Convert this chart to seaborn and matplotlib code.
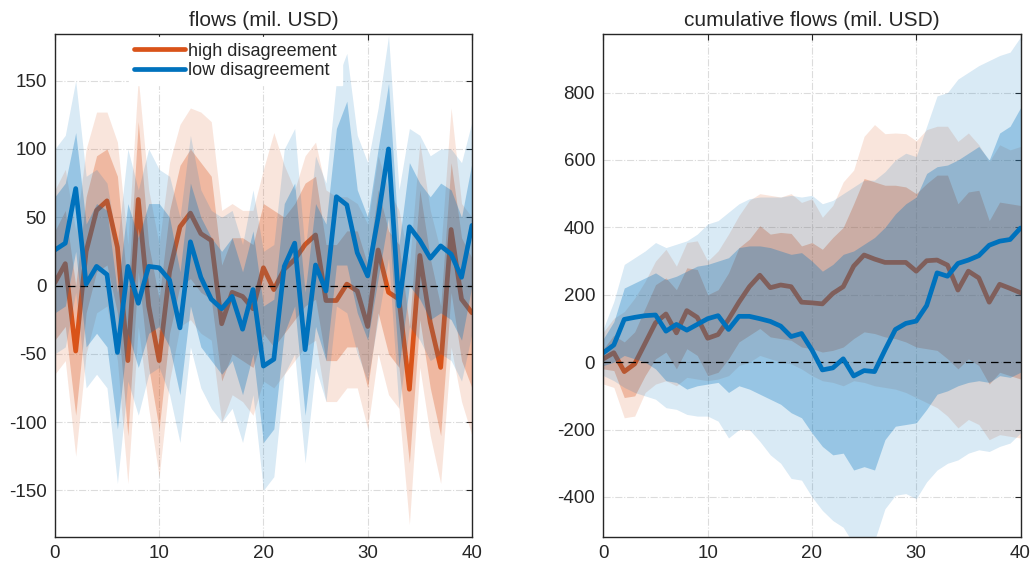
import numpy as np
import pandas as pd
import matplotlib
matplotlib.use("Agg")
import matplotlib.pyplot as plt
import seaborn as sns

horizon = list(range(41))

# flows (mil. USD): median, 68% band (lo/hi), 90% band (lo/hi)
flow_high_med = [2, 16, -48, 25, 55, 62, 28, -55, 63, -15, -55, 10, 43, 53, 38, 33, -28, -5, -8, -17, 13,
                 -3, 12, 19, 30, 37, -11, -11, 1, -4, -30, 26, -5, -10, -76, 22, -27, -60, 41, -10, -20]
flow_high_ilo = [-40, -30, -95, -20, 10, 15, -20, -110, 10, -60, -105, -35, 0, 5, -5, -10, -70, -50, -55, -60, -35,
                 -45, -35, -25, -15, -10, -55, -55, -45, -45, -75, -20, -50, -60, -130, -25, -75, -110, -5, -55, -75]
flow_high_ihi = [40, 55, 0, 65, 95, 100, 80, -5, 120, 30, -10, 55, 88, 100, 90, 80, 15, 35, 35, 30, 60,
                 55, 50, 60, 75, 80, 30, 30, 40, 40, 15, 70, 40, 30, -30, 70, 20, -15, 90, 35, 20]
flow_high_olo = [-65, -55, -125, -50, -20, -15, -55, -145, -30, -90, -140, -70, -30, -25, -35, -40, -100, -80, -85, -95, -70,
                 -75, -65, -55, -45, -40, -85, -85, -75, -75, -105, -50, -80, -90, -175, -60, -110, -145, -45, -85, -110]
flow_high_ohi = [70, 85, 40, 100, 127, 127, 105, 30, 152, 70, 30, 90, 118, 130, 127, 120, 55, 60, 55, 55, 85,
                 112, 88, 70, 95, 105, 70, 65, 65, 60, 45, 95, 70, 55, 15, 105, 55, 25, 130, 60, 50]

flow_low_med = [26, 31, 71, 1, 14, 8, -49, 14, -13, 14, 13, 4, -31, 32, 6, -10, -17, -8, -32, -3, -59,
                -54, 14, 31, -47, 15, -4, 65, 59, 24, 7, 50, 100, -15, 43, 33, 20, 29, 23, 6, 44]
flow_low_ilo = [-20, -15, 25, -45, -35, -45, -105, -35, -60, -35, -30, -45, -80, -15, -45, -55, -65, -55, -80, -50, -115,
                -105, -35, -15, -95, -30, -55, 15, 15, -20, -40, 5, 50, -60, 0, -10, -25, -20, -25, -40, 0]
flow_low_ihi = [65, 75, 112, 45, 60, 55, -5, 60, 35, 60, 60, 50, 10, 75, 50, 35, 25, 35, 10, 40, -15,
                -10, 60, 75, -5, 60, 45, 115, 135, 70, 50, 100, 148, 30, 90, 75, 65, 75, 70, 50, 90]
flow_low_olo = [-50, -45, -5, -75, -65, -75, -145, -70, -95, -65, -60, -80, -115, -45, -75, -90, -100, -90, -115, -80, -150,
                -140, -65, -50, -130, -60, -85, -15, -20, -50, -70, -25, 20, -90, -30, -40, -55, -50, -55, -70, -35]
flow_low_ohi = [100, 110, 150, 80, 85, 75, 30, 100, 70, 100, 85, 80, 50, 110, 70, 55, 50, 55, 30, 70, 25,
                30, 100, 115, 25, 95, 75, 150, 170, 110, 90, 130, 183, 70, 115, 110, 95, 100, 100, 90, 120]

# cumulative flows (mil. USD)
cum_high_med = [10, 28, -28, -5, 56, 117, 143, 87, 153, 133, 71, 82, 127, 178, 224, 258, 221, 229, 224, 178, 176,
                173, 204, 224, 285, 318, 306, 296, 296, 296, 270, 301, 303, 288, 214, 270, 250, 178, 231, 219, 206]
cum_high_ilo = [-20, -25, -105, -100, -40, 10, 30, -20, 40, 20, -40, -30, 10, 60, 80, 100, 75, 70, 65, 45, 40,
                30, 35, 45, 70, 90, 85, 75, 70, 60, 45, 40, 35, 10, -20, 10, -10, -65, -30, -40, -50]
cum_high_ihi = [40, 80, 60, 90, 160, 230, 250, 215, 280, 275, 200, 215, 265, 340, 365, 405, 380, 385, 382, 345, 355,
                335, 370, 400, 470, 545, 535, 525, 525, 520, 500, 530, 555, 555, 470, 505, 510, 420, 475, 470, 465]
cum_high_olo = [-65, -75, -165, -160, -90, -65, -55, -70, -45, -50, -55, -50, -40, -10, 0, 20, 10, 0, -5, -20, -40,
                -55, -60, -70, -55, -60, -70, -75, -80, -90, -105, -120, -135, -160, -195, -170, -185, -230, -215, -220, -225]
cum_high_ohi = [90, 130, 150, 190, 240, 300, 335, 285, 355, 360, 300, 330, 380, 435, 480, 500, 495, 490, 500, 474, 485,
                430, 465, 535, 570, 670, 705, 678, 680, 678, 657, 690, 700, 700, 655, 680, 645, 595, 645, 630, 640]

cum_low_med = [28, 51, 127, 133, 138, 140, 92, 112, 95, 112, 129, 138, 97, 136, 136, 129, 121, 107, 76, 85, 36,
               -23, -17, 10, -41, -25, -28, 36, 97, 115, 122, 168, 265, 255, 293, 303, 316, 347, 359, 364, 398]
cum_low_ilo = [-10, 0, 20, 10, 0, -20, -55, -60, -80, -70, -65, -60, -90, -70, -80, -95, -110, -125, -150, -165, -210,
               -250, -275, -270, -320, -310, -320, -230, -190, -185, -180, -140, -95, -85, -70, -60, -55, -60, -40, -45, -30]
cum_low_ihi = [70, 120, 220, 235, 250, 265, 245, 255, 270, 285, 290, 300, 310, 340, 345, 345, 340, 330, 320, 325, 300,
               270, 290, 320, 330, 350, 370, 400, 440, 470, 490, 560, 580, 585, 600, 620, 640, 600, 680, 700, 755]
cum_low_olo = [-40, -55, -75, -90, -100, -110, -135, -140, -155, -160, -160, -175, -225, -200, -200, -235, -275, -300, -345, -350, -400,
               -440, -470, -490, -540, -520, -530, -435, -395, -390, -405, -355, -320, -300, -290, -270, -260, -265, -250, -240, -210]
cum_low_ohi = [100, 180, 290, 310, 330, 355, 340, 350, 360, 380, 410, 420, 445, 470, 485, 490, 490, 490, 495, 490, 495,
               470, 480, 500, 520, 540, 540, 565, 600, 620, 610, 700, 790, 800, 840, 860, 880, 895, 910, 920, 965]

ORANGE = "#D95319"
BLUE = "#0072BD"

sns.set_style("white")
plt.rcParams["font.family"] = ["Liberation Sans", "DejaVu Sans"]
plt.rcParams["axes.unicode_minus"] = False

fig = plt.figure(figsize=(10.35, 5.71), dpi=100)
ax1 = fig.add_axes([0.053, 0.060, 0.403, 0.880])
ax2 = fig.add_axes([0.583, 0.060, 0.403, 0.880])


def draw_group(ax, med, ilo, ihi, olo, ohi, color, label, z):
    # later groups are drawn over earlier ones (bands cover the first median line)
    df = pd.DataFrame({"h": horizon, "med": med})
    ax.fill_between(horizon, olo, ohi, color=color, alpha=0.15, lw=0, zorder=z)
    ax.fill_between(horizon, ilo, ihi, color=color, alpha=0.30, lw=0, zorder=z + 0.1)
    sns.lineplot(data=df, x="h", y="med", ax=ax, color=color, lw=3.4, label=label, zorder=z + 0.5)


def style_axis(ax, title, ylim, yticks):
    ax.axhline(0, color="black", lw=0.9, ls=(0, (6, 4)), zorder=3.3)
    ax.set_xlim(0, 40)
    ax.set_ylim(*ylim)
    ax.set_xticks([0, 10, 20, 30, 40])
    ax.set_yticks(yticks)
    ax.grid(True, color="#dcdcdc", ls="-.", lw=0.8)
    ax.set_axisbelow(True)
    ax.tick_params(direction="in", length=4, width=0.8, top=True, right=True,
                   labelsize=13.5, colors="#262626", pad=6)
    for s in ax.spines.values():
        s.set_color("#262626")
        s.set_linewidth(1.0)
        s.set_zorder(6)
    ax.set_xlabel("")
    ax.set_ylabel("")
    ax.set_title(title, fontsize=15, pad=6, color="#262626")


draw_group(ax1, flow_high_med, flow_high_ilo, flow_high_ihi, flow_high_olo, flow_high_ohi, ORANGE, "high disagreement", 1)
draw_group(ax1, flow_low_med, flow_low_ilo, flow_low_ihi, flow_low_olo, flow_low_ohi, BLUE, "low disagreement", 3)
style_axis(ax1, "flows (mil. USD)", (-184, 184), [-150, -100, -50, 0, 50, 100, 150])
leg = ax1.legend(loc="upper left", bbox_to_anchor=(0.155, 1.012), frameon=True, fancybox=False,
                 facecolor="white", edgecolor="white", framealpha=1, fontsize=13,
                 handlelength=2.8, handletextpad=0.2, labelspacing=0.15, borderpad=0.3)
leg.set_zorder(10)

draw_group(ax2, cum_high_med, cum_high_ilo, cum_high_ihi, cum_high_olo, cum_high_ohi, ORANGE, "high disagreement", 1)
draw_group(ax2, cum_low_med, cum_low_ilo, cum_low_ihi, cum_low_olo, cum_low_ohi, BLUE, "low disagreement", 3)
style_axis(ax2, "cumulative flows (mil. USD)", (-518, 973), [-400, -200, 0, 200, 400, 600, 800])
ax2.get_legend().remove()

fig.savefig("out.png", dpi=100)
